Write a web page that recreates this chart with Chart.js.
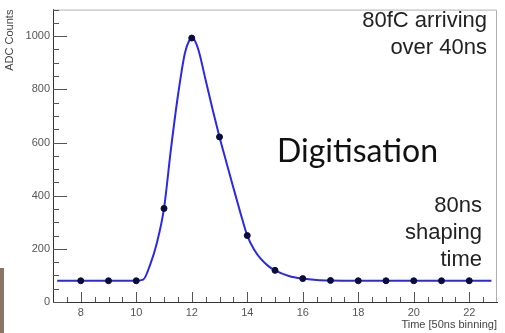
<!DOCTYPE html>
<html>
<head>
<meta charset="utf-8">
<script src="https://cdn.jsdelivr.net/npm/chart.js@4.4.1/dist/chart.umd.min.js"></script>
<style>
  html, body { margin: 0; padding: 0; background: #fff; }
  #wrap { position: relative; width: 505px; height: 333px; overflow: hidden; }
  .note { position: absolute; color: #222; font-family: "Liberation Sans", Arial, sans-serif;
          font-size: 22px; line-height: 27px; text-align: right; white-space: nowrap; }
  #title { position: absolute; left: 277px; top: 134px; color: #111;
           font-family: Lato, "Noto Sans", sans-serif; font-size: 32px; line-height: 32px; }
  #strip { position: absolute; left: 0; top: 268px; width: 4px; height: 65px; background: #8a7466; }
</style>
</head>
<body>
<div id="wrap">
  <canvas id="adc"></canvas>
  <div class="note" style="right:18px; top:6px;">80fC arriving<br>over 40ns</div>
  <div id="title">Digitisation</div>
  <div class="note" style="right:23px; top:191px;">80ns<br>shaping<br>time</div>
  <div id="strip"></div>
</div>
<script>
// ---------- DATA ----------
const sampleTimes = [8, 9, 10, 11, 12, 13, 14, 15, 16, 17, 18, 19, 20, 21, 22];
const sampleCounts = [80, 80, 80, 352, 993, 621, 250, 119, 88, 81, 80, 80, 80, 80, 80];

// shaped pulse curve
const curveTimes = [7.15, 8, 9, 10, 10.25, 10.5, 10.75, 11, 11.25, 11.5, 11.75, 11.9, 12, 12.1,
                    12.25, 12.5, 12.75, 13, 13.25, 13.5, 13.75, 14, 14.25, 14.5, 14.75, 15,
                    15.5, 16, 16.5, 17, 18, 19, 20, 21, 22, 22.8];
const curveCounts = [80, 80, 80, 80, 84, 140, 225, 352, 575, 775, 935, 982, 993, 986,
                     945, 835, 725, 621, 525, 430, 337, 250, 197, 161, 136, 119,
                     98, 88, 83, 81, 80, 80, 80, 80, 80, 80];

const xTicks = [8, 10, 12, 14, 16, 18, 20, 22];
const yTicks = [0, 200, 400, 600, 800, 1000];

const X_MIN = 7, X_MAX = 23, Y_MIN = 0, Y_MAX = 1100;

// ---------- TICKS INSIDE THE FRAME (ROOT style) ----------
const frameTicks = {
    id: "frameTicks",
    beforeDatasetsDraw(chart) {
        const { ctx, chartArea: a, scales: { x, y } } = chart;
        ctx.save();
        ctx.lineWidth = 1;

        // top and right edges of the frame
        ctx.strokeStyle = "#b0b0b0";
        ctx.beginPath();
        ctx.moveTo(a.left, a.top + 0.5);
        ctx.lineTo(a.right - 0.5, a.top + 0.5);
        ctx.lineTo(a.right - 0.5, a.bottom);
        ctx.stroke();

        ctx.strokeStyle = "#555";
        ctx.beginPath();
        for (let v = Y_MIN; v <= Y_MAX; v += 50) {
            const py = Math.round(y.getPixelForValue(v)) + 0.5;
            const len = yTicks.includes(v) ? 14 : 6;
            ctx.moveTo(a.left, py);
            ctx.lineTo(a.left + len, py);
        }
        for (let v = X_MIN + 0.5; v < X_MAX; v += 0.5) {
            const px = Math.round(x.getPixelForValue(v)) + 0.5;
            const len = xTicks.includes(v) ? 10 : 5;
            ctx.moveTo(px, a.bottom);
            ctx.lineTo(px, a.bottom - len);
        }
        ctx.stroke();
        ctx.restore();
    }
};

// ---------- CHART ----------
const tickFont = { family: "'Liberation Sans', Arial, sans-serif", size: 11 };
const titleFont = { family: "'Liberation Sans', Arial, sans-serif", size: 11 };

new Chart(document.getElementById("adc"), {
    type: "scatter",
    data: {
        datasets: [
            {
                label: "fit",
                data: curveTimes.map((t, i) => ({ x: t, y: curveCounts[i] })),
                showLine: true,
                borderColor: "#2a2ae6",
                borderWidth: 2,
                pointRadius: 0,
                cubicInterpolationMode: "monotone",
                order: 2
            },
            {
                label: "samples",
                data: sampleTimes.map((t, i) => ({ x: t, y: sampleCounts[i] })),
                pointRadius: 3,
                pointBackgroundColor: "#0c0c3a",
                pointBorderColor: "#0c0c3a",
                order: 1
            }
        ]
    },
    plugins: [frameTicks],
    options: {
        responsive: true,
        maintainAspectRatio: false,
        animation: false,
        layout: { padding: { top: 5, right: 8, left: 0, bottom: 0 } },
        plugins: { legend: { display: false }, tooltip: { enabled: false } },
        scales: {
            x: {
                type: "linear",
                min: X_MIN,
                max: X_MAX,
                afterBuildTicks: s => { s.ticks = xTicks.map(v => ({ value: v })); },
                afterFit: s => { s.height = 31; },
                grid: { display: false, drawTicks: false },
                border: { display: true, color: "#333", width: 1 },
                ticks: { color: "#555", font: tickFont, padding: 4, maxRotation: 0,
                         callback: v => String(v) },
                title: {
                    display: true, text: "Time [50ns binning]", align: "end",
                    color: "#444", font: titleFont, padding: { top: 0, bottom: 1 }
                }
            },
            y: {
                type: "linear",
                min: Y_MIN,
                max: Y_MAX,
                afterBuildTicks: s => { s.ticks = yTicks.map(v => ({ value: v })); },
                afterFit: s => { s.width = 53; },
                grid: { display: false, drawTicks: false },
                border: { display: true, color: "#333", width: 1 },
                ticks: { color: "#555", font: tickFont, padding: 3,
                         callback: v => String(v) },
                title: {
                    display: true, text: "ADC Counts", align: "end",
                    color: "#444", font: titleFont, padding: { top: 3, bottom: 0 }
                }
            }
        }
    }
});
</script>
</body>
</html>
